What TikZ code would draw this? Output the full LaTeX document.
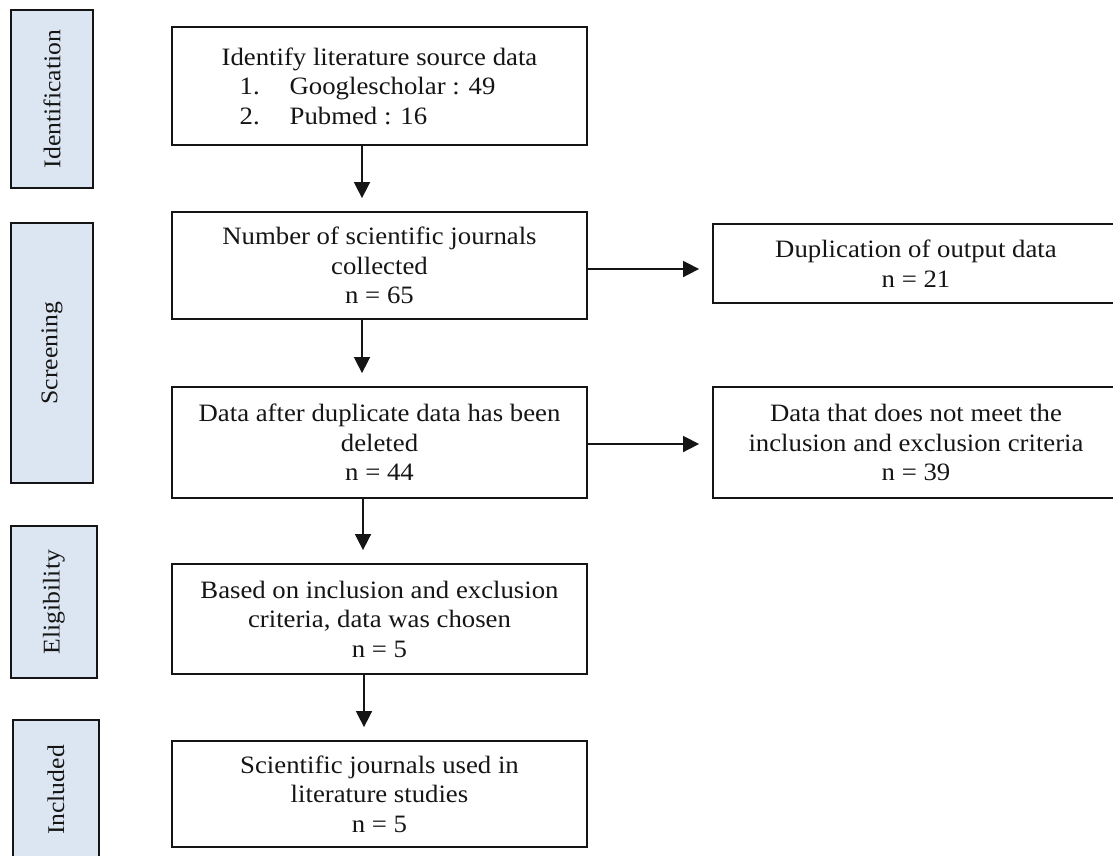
\documentclass[tikz,border=0pt]{standalone}
\usepackage{fontspec}
\setmainfont{Liberation Serif}[FakeStretch=1.07]
\usetikzlibrary{arrows.meta,calc}
\definecolor{stagefill}{HTML}{DCE6F2}
\definecolor{inkc}{HTML}{151515}
\begin{document}
\begin{tikzpicture}[x=1pt,y=1pt,
  box/.style={draw=inkc,line width=1.8pt,align=center,text=inkc,
    font=\fontsize{25}{29.5}\selectfont,inner sep=0pt,minimum width=415pt},
  stagebox/.style={draw=inkc,line width=1.8pt,fill=stagefill,rotate=90,text=inkc,
    font=\fontsize{24}{28}\selectfont,inner sep=0pt},
  arr/.style={draw=inkc,line width=1.6pt,-{Triangle[width=16pt,length=16pt]},shorten >=13pt}]
\useasboundingbox (0,0) rectangle (1113,-855);
% stage labels
\node[stagebox,minimum width=178pt,minimum height=82pt] (S1) at (52,-99) {Identification};
\node[stagebox,minimum width=260pt,minimum height=82pt] (S2) at (52,-353) {Screening};
\node[stagebox,minimum width=152pt,minimum height=86pt] (S3) at (54,-602) {Eligibility};
\node[stagebox,minimum width=140pt,minimum height=86pt] (S4) at (56,-790) {Included};
% main column
\node[box,minimum height=118pt,align=left] (B1) at (379.5,-86)
  {Identify literature source data\\
   \hspace*{18pt}\makebox[50pt][l]{1.}Googlescholar : 49\\
   \hspace*{18pt}\makebox[50pt][l]{2.}Pubmed : 16};
\node[box,minimum height=107pt] (B2) at (379.5,-265.5)
  {Number of scientific journals\\collected\\n = 65};
\node[box,minimum height=111pt] (B3) at (379.5,-442.5)
  {Data after duplicate data has been\\deleted\\n = 44};
\node[box,minimum height=110pt] (B4) at (379.5,-619)
  {Based on inclusion and exclusion\\criteria, data was chosen\\n = 5};
\node[box,minimum height=106pt] (B5) at (379.5,-794)
  {Scientific journals used in\\literature studies\\n = 5};
% right column
\node[box,minimum width=406pt,minimum height=79pt] (R1) at (916,-263.5)
  {Duplication of output data\\n = 21};
\node[box,minimum width=406pt,minimum height=111pt] (R2) at (916,-442.5)
  {Data that does not meet the\\inclusion and exclusion criteria\\n = 39};
% connectors
\draw[arr] ([xshift=-17.5pt]B1.south) -- ([xshift=-17.5pt]B2.north);
\draw[arr] ([xshift=-17.5pt]B2.south) -- ([xshift=-17.5pt]B3.north);
\draw[arr] ([xshift=-16.5pt]B3.south) -- ([xshift=-16.5pt]B4.north);
\draw[arr] ([xshift=-15.5pt]B4.south) -- ([xshift=-15.5pt]B5.north);
\draw[arr] ([yshift=-3.5pt]B2.east) -- ([yshift=-3.5pt]B2.east -| R1.west);
\draw[arr] ([yshift=-1.5pt]B3.east) -- ([yshift=-1.5pt]B3.east -| R2.west);
\end{tikzpicture}
\end{document}
